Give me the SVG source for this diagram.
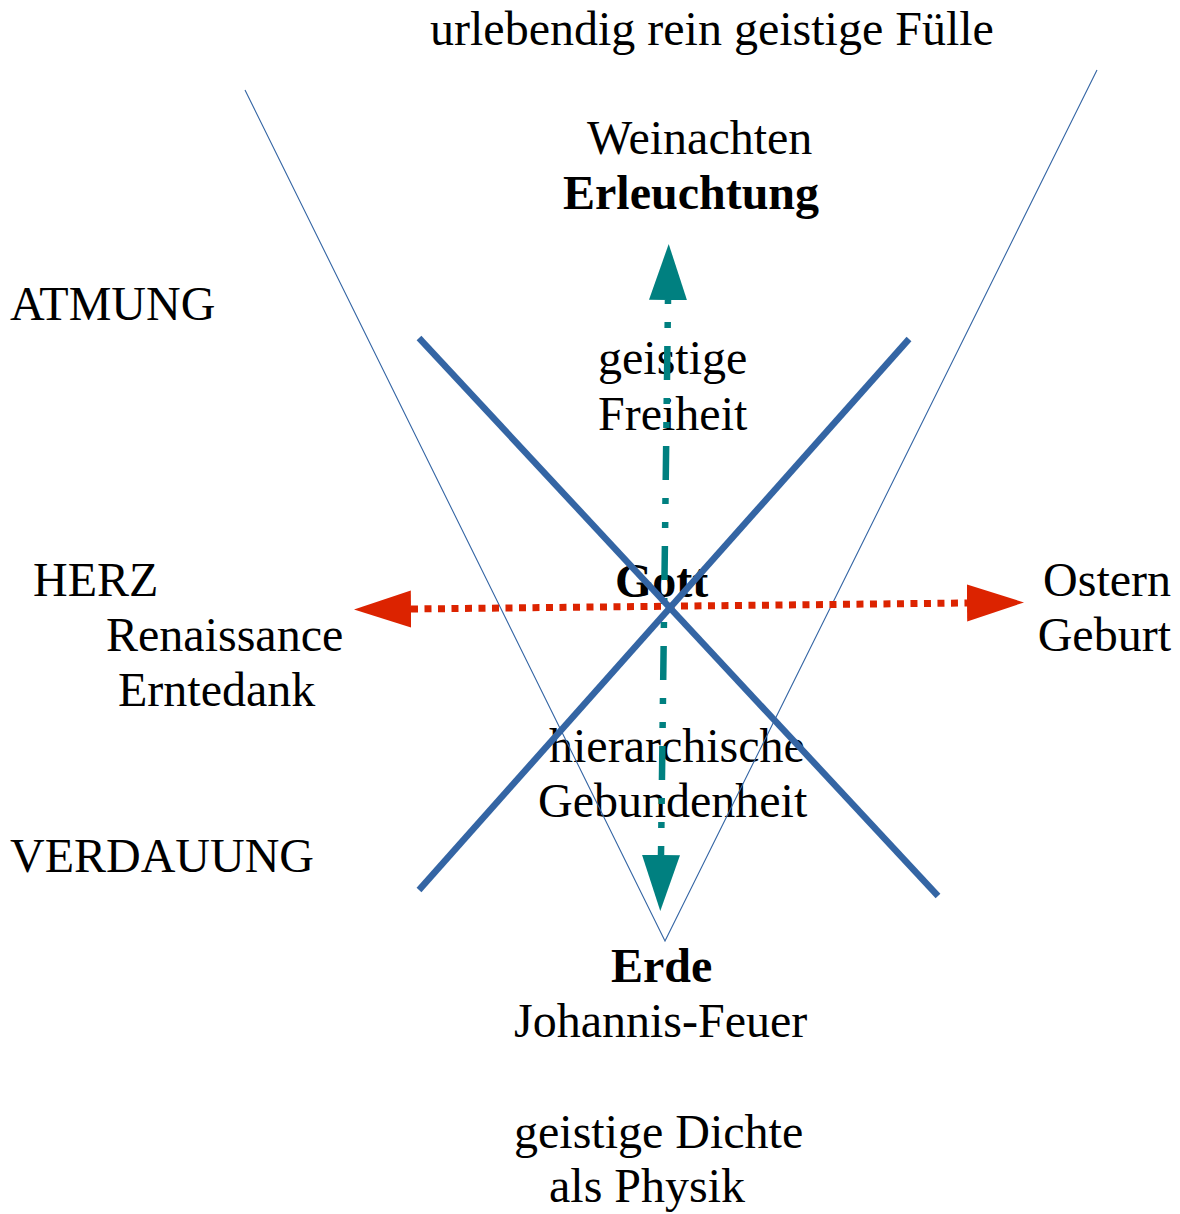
<svg xmlns="http://www.w3.org/2000/svg" width="1180" height="1214" viewBox="0 0 1180 1214">
  <style>
    text { font-family: "Liberation Serif", "Times New Roman", serif; font-size: 48px; fill: #000; }
    .b { font-weight: bold; }
    .r { text-anchor: end; }
    .thin { fill: none; stroke: #3465a4; stroke-width: 1.1; }
    .cross { fill: none; stroke: #3465a4; stroke-width: 6.5; }
    .teal { fill: none; stroke: #008080; stroke-width: 6.5; stroke-dasharray: 34 18 6 18 6 18; stroke-dashoffset: 54; }
    .red { fill: none; stroke: #dc2300; stroke-width: 7; stroke-dasharray: 7 6.5; }
  </style>
  <defs>
    <marker id="head-teal" markerUnits="userSpaceOnUse" markerWidth="60" markerHeight="44" viewBox="0 -22 60 44" refX="0" refY="0" orient="auto-start-reverse">
      <path d="M0,-19 L56,0 L0,19 z" fill="#008080"/>
    </marker>
    <marker id="head-red" markerUnits="userSpaceOnUse" markerWidth="62" markerHeight="44" viewBox="0 -22 62 44" refX="0" refY="0" orient="auto-start-reverse">
      <path d="M0,-18.5 L57,0 L0,18.5 z" fill="#dc2300"/>
    </marker>
  </defs>
  <rect width="1180" height="1214" fill="#fff"/>

  <g id="node-fuelle"><text x="430" y="45">urlebendig rein geistige Fülle</text></g>
  <g id="node-weinachten">
    <text x="587" y="154">Weinachten</text>
    <text x="563" y="209" class="b">Erleuchtung</text>
  </g>
  <g id="node-atmung"><text x="10" y="320">ATMUNG</text></g>
  <g id="node-freiheit">
    <text x="598" y="374">geistige</text>
    <text x="598" y="430">Freiheit</text>
  </g>
  <g id="node-gott"><text x="615" y="597" class="b">Gott</text></g>
  <g id="node-herz">
    <text x="33" y="596">HERZ</text>
    <text x="106" y="651">Renaissance</text>
    <text x="118" y="706">Erntedank</text>
  </g>
  <g id="node-ostern">
    <text x="1171" y="596" class="r">Ostern</text>
    <text x="1171" y="651" class="r">Geburt</text>
  </g>
  <g id="node-gebundenheit">
    <text x="549" y="762">hierarchische</text>
    <text x="538" y="817">Gebundenheit</text>
  </g>
  <g id="node-verdauung"><text x="10" y="872">VERDAUUNG</text></g>
  <g id="node-erde">
    <text x="611" y="982" class="b">Erde</text>
    <text x="514" y="1037">Johannis-Feuer</text>
    <text x="514" y="1148">geistige Dichte</text>
    <text x="549" y="1202">als Physik</text>
  </g>

  <g id="connectors">
    <polyline class="thin" points="245,90 665,941 1097,70"/>
    <line class="red" x1="411" y1="609" x2="967" y2="603" marker-start="url(#head-red)" marker-end="url(#head-red)"/>
    <line class="teal" x1="668" y1="300" x2="661" y2="855" marker-start="url(#head-teal)" marker-end="url(#head-teal)"/>
    <line class="cross" x1="419" y1="338" x2="938" y2="896"/>
    <line class="cross" x1="909" y1="339" x2="419" y2="890"/>
  </g>
</svg>
